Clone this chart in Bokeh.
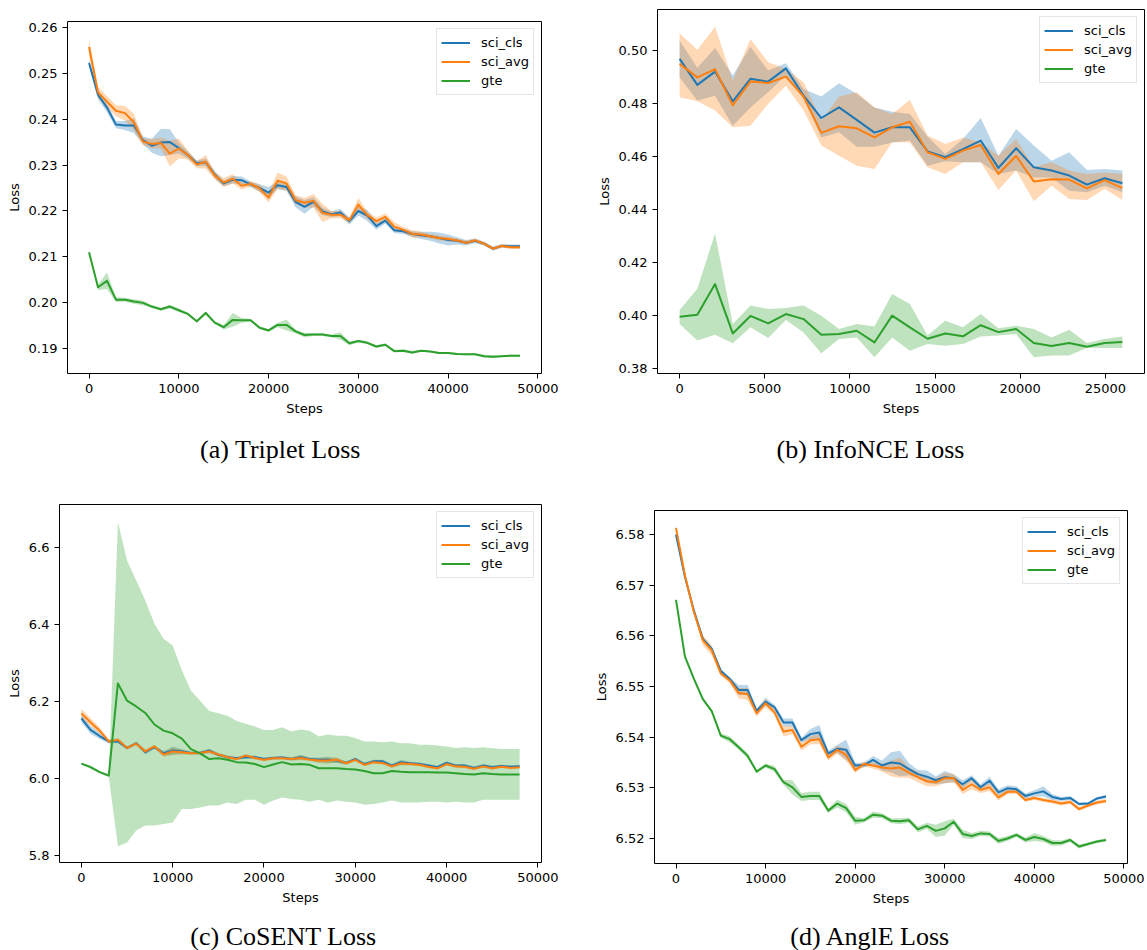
from bokeh.plotting import figure
from bokeh.models import Range1d, FixedTicker, PrintfTickFormatter, Label
from bokeh.layouts import row, column
from bokeh.embed import file_html
from bokeh.resources import INLINE

BLUE, ORANGE, GREEN = "#1f77b4", "#ff7f0e", "#2ca02c"
series_names = ["sci_cls", "sci_avg", "gte"]

# ---------------- (a) Triplet Loss ----------------
steps_a = list(range(0, 48001, 1000))
blue_a = [0.2522, 0.2453, 0.2425, 0.2388, 0.2386, 0.2386, 0.2354, 0.2342, 0.2349, 0.2350,
          0.2337, 0.2322, 0.2304, 0.2306, 0.2279, 0.2260, 0.2268, 0.2267, 0.2258, 0.2250,
          0.2240, 0.2256, 0.2252, 0.2220, 0.2209, 0.2220, 0.2199, 0.2193, 0.2197, 0.2178,
          0.2200, 0.2190, 0.2167, 0.2179, 0.2158, 0.2156, 0.2150, 0.2147, 0.2145, 0.2141,
          0.2137, 0.2135, 0.2131, 0.2135, 0.2129, 0.2118, 0.2124, 0.2123, 0.2123]
orange_a = [0.2557, 0.2458, 0.2438, 0.2418, 0.2413, 0.2393, 0.2351, 0.2346, 0.2348, 0.2325,
            0.2336, 0.2322, 0.2301, 0.2307, 0.2277, 0.2262, 0.2270, 0.2255, 0.2259, 0.2249,
            0.2229, 0.2266, 0.2260, 0.2224, 0.2218, 0.2222, 0.2196, 0.2192, 0.2192, 0.2180,
            0.2214, 0.2191, 0.2178, 0.2187, 0.2166, 0.2159, 0.2150, 0.2149, 0.2145, 0.2141,
            0.2139, 0.2136, 0.2131, 0.2136, 0.2129, 0.2118, 0.2124, 0.2121, 0.2121]
green_a = [0.2110, 0.2034, 0.2048, 0.2007, 0.2007, 0.2003, 0.2000, 0.1992, 0.1986, 0.1992,
           0.1984, 0.1976, 0.1960, 0.1978, 0.1957, 0.1947, 0.1963, 0.1962, 0.1962, 0.1946,
           0.1940, 0.1952, 0.1952, 0.1938, 0.1930, 0.1931, 0.1931, 0.1928, 0.1928, 0.1912,
           0.1917, 0.1913, 0.1905, 0.1909, 0.1895, 0.1896, 0.1892, 0.1896, 0.1894, 0.1891,
           0.1891, 0.1889, 0.1888, 0.1888, 0.1884, 0.1883, 0.1884, 0.1885, 0.1885]
blue_a_hw = [.0008, .0010, .0010, .0008, .0010, .0016, .0008, .0015, .0030, .0028,
             .0012, .0008, .0006, .0008, .0008, .0006, .0008, .0008, .0006, .0008,
             .0012, .0008, .0008, .0012, .0015, .0010, .0008, .0006, .0008, .0008,
             .0010, .0012, .0008, .0006, .0006, .0006, .0006, .0008, .0010, .0012,
             .0012, .0008, .0006, .0005, .0004, .0004, .0004, .0004, .0004]
orange_a_hw = [.0018, .0012, .0012, .0012, .0016, .0018, .0008, .0010, .0012, .0028,
               .0022, .0010, .0008, .0015, .0008, .0010, .0010, .0008, .0006, .0008,
               .0010, .0018, .0015, .0010, .0010, .0015, .0020, .0008, .0008, .0006,
               .0014, .0008, .0008, .0008, .0010, .0006, .0008, .0006, .0005, .0005,
               .0005, .0004, .0004, .0004, .0004, .0004, .0004, .0004, .0004]
green_a_hw = [.0001, .0006, .0018, .0005, .0004, .0005, .0005, .0003, .0003, .0004,
              .0004, .0003, .0003, .0004, .0003, .0005, .0015, .0005, .0003, .0003,
              .0003, .0005, .0012, .0004, .0005, .0003, .0003, .0003, .0008, .0004,
              .0003, .0003, .0003, .0003, .0003, .0003, .0003, .0002, .0002, .0002,
              .0002, .0002, .0002, .0002, .0003, .0003, .0002, .0002, .0002]

# ---------------- (b) InfoNCE Loss ----------------
steps_b = list(range(0, 26001, 1040))
blue_b = [.4969, .4871, .4921, .4809, .4894, .4883, .4933, .4830, .4746, .4786,
          .4739, .4691, .4711, .4711, .4620, .4598, .4629, .4661, .4558, .4632,
          .4560, .4548, .4529, .4495, .4519, .4500]
blue_b_lo = [.4899, .4812, .4830, .4717, .4786, .4843, .4906, .4818, .4673, .4692,
             .4638, .4638, .4654, .4661, .4566, .4583, .4579, .4579, .4535, .4548,
             .4522, .4522, .4472, .4466, .4491, .4466]
blue_b_hi = [.5038, .4935, .5010, .4906, .5015, .4925, .4952, .4855, .4827, .4877,
             .4837, .4786, .4770, .4761, .4676, .4610, .4667, .4746, .4604, .4705,
             .4642, .4585, .4617, .4550, .4554, .4548]
orange_b = [.4950, .4899, .4930, .4794, .4884, .4878, .4902, .4827, .4690, .4715,
            .4707, .4673, .4711, .4732, .4617, .4592, .4623, .4644, .4535, .4603,
            .4507, .4515, .4514, .4481, .4512, .4482]
orange_b_lo = [.4824, .4809, .4774, .4711, .4717, .4799, .4868, .4774, .4642, .4604,
               .4566, .4554, .4655, .4654, .4560, .4535, .4579, .4579, .4475, .4548,
               .4432, .4491, .4441, .4437, .4479, .4437]
orange_b_hi = [.5065, .5003, .5090, .4887, .5044, .4956, .4931, .4881, .4736, .4827,
               .4843, .4786, .4761, .4814, .4680, .4648, .4673, .4654, .4604, .4667,
               .4560, .4579, .4548, .4535, .4541, .4535]
green_b = [.3997, .4004, .4120, .3934, .4000, .3972, .4007, .3988, .3929, .3932,
           .3944, .3900, .4001, .3957, .3914, .3934, .3923, .3965, .3939, .3951,
           .3898, .3887, .3898, .3884, .3898, .3902]
green_b_lo = [.3970, .3907, .3929, .3897, .3957, .3917, .3985, .3938, .3859, .3913,
              .3919, .3844, .3919, .3869, .3894, .3888, .3894, .3922, .3926, .3932,
              .3844, .3851, .3851, .3880, .3879, .3879]
green_b_hi = [.4022, .4102, .4311, .3970, .4039, .4026, .4030, .4039, .4001, .3951,
              .3970, .3960, .4083, .4045, .3926, .3982, .3957, .4007, .3954, .3963,
              .3951, .3919, .3948, .3898, .3913, .3922]

# ---------------- (c) CoSENT Loss ----------------
steps_c = list(range(0, 48001, 1000))
blue_c = [6.156, 6.126, 6.110, 6.096, 6.096, 6.079, 6.091, 6.068, 6.081, 6.065,
          6.072, 6.070, 6.066, 6.066, 6.072, 6.061, 6.055, 6.052, 6.055, 6.055,
          6.050, 6.053, 6.054, 6.050, 6.055, 6.050, 6.048, 6.048, 6.046, 6.040,
          6.050, 6.037, 6.044, 6.044, 6.033, 6.042, 6.039, 6.037, 6.033, 6.029,
          6.040, 6.033, 6.033, 6.027, 6.033, 6.029, 6.032, 6.030, 6.031]
orange_c = [6.169, 6.146, 6.124, 6.096, 6.100, 6.079, 6.090, 6.070, 6.083, 6.062,
            6.070, 6.068, 6.065, 6.066, 6.070, 6.062, 6.055, 6.050, 6.059, 6.053,
            6.048, 6.052, 6.052, 6.050, 6.053, 6.049, 6.046, 6.046, 6.048, 6.039,
            6.048, 6.035, 6.042, 6.040, 6.031, 6.039, 6.037, 6.035, 6.030, 6.026,
            6.037, 6.031, 6.030, 6.025, 6.031, 6.026, 6.030, 6.027, 6.029]
green_c = [6.038, 6.029, 6.016, 6.007, 6.247, 6.202, 6.187, 6.170, 6.140, 6.124,
           6.117, 6.103, 6.076, 6.065, 6.050, 6.052, 6.048, 6.042, 6.041, 6.037,
           6.029, 6.036, 6.042, 6.036, 6.037, 6.035, 6.026, 6.026, 6.026, 6.024,
           6.023, 6.019, 6.013, 6.013, 6.019, 6.017, 6.016, 6.016, 6.016, 6.015,
           6.015, 6.013, 6.011, 6.010, 6.013, 6.011, 6.010, 6.010, 6.010]
blue_c_hw = [.010, .010, .008, .005, .005, .004, .004, .006, .004, .006,
             .010, .006, .004, .004, .005, .004, .004, .004, .004, .004,
             .004, .004, .004, .004, .006, .004, .006, .008, .006, .004,
             .004, .004, .004, .004, .004, .006, .004, .004, .004, .004,
             .004, .004, .004, .004, .004, .004, .003, .003, .003]
orange_c_hw = [.012, .010, .008, .005, .005, .004, .004, .004, .004, .006,
               .010, .006, .004, .004, .006, .004, .004, .004, .004, .004,
               .004, .004, .004, .004, .006, .004, .006, .008, .006, .004,
               .004, .004, .004, .004, .004, .006, .004, .004, .004, .004,
               .004, .004, .004, .004, .004, .004, .003, .003, .003]
green_c_lo = [6.035, 6.025, 6.013, 6.003, 5.823, 5.833, 5.864, 5.877, 5.877, 5.881,
              5.885, 5.920, 5.920, 5.924, 5.929, 5.929, 5.937, 5.933, 5.944, 5.944,
              5.931, 5.942, 5.950, 5.946, 5.944, 5.939, 5.944, 5.936, 5.942, 5.939,
              5.937, 5.931, 5.933, 5.937, 5.942, 5.937, 5.937, 5.937, 5.939, 5.939,
              5.937, 5.939, 5.937, 5.937, 5.944, 5.944, 5.944, 5.944, 5.944]
green_c_hi = [6.041, 6.033, 6.019, 6.011, 6.667, 6.567, 6.515, 6.463, 6.402, 6.363,
              6.346, 6.281, 6.228, 6.202, 6.175, 6.169, 6.163, 6.149, 6.142, 6.135,
              6.126, 6.126, 6.133, 6.122, 6.127, 6.124, 6.109, 6.114, 6.111, 6.111,
              6.105, 6.096, 6.096, 6.094, 6.096, 6.091, 6.091, 6.087, 6.087, 6.085,
              6.083, 6.079, 6.081, 6.079, 6.081, 6.078, 6.076, 6.076, 6.076]

# ---------------- (d) AnglE Loss ----------------
steps_d = list(range(0, 48001, 1000))
blue_d = [6.5800, 6.5716, 6.5650, 6.5594, 6.5574, 6.5531, 6.5515, 6.5493, 6.5493, 6.5452,
          6.5470, 6.5459, 6.5429, 6.5429, 6.5394, 6.5406, 6.5409, 6.5368, 6.5377, 6.5375,
          6.5344, 6.5345, 6.5355, 6.5344, 6.5350, 6.5348, 6.5337, 6.5327, 6.5322, 6.5315,
          6.5321, 6.5319, 6.5307, 6.5319, 6.5301, 6.5314, 6.5291, 6.5299, 6.5297, 6.5284,
          6.5289, 6.5293, 6.5282, 6.5278, 6.5280, 6.5268, 6.5269, 6.5279, 6.5283]
orange_d = [6.5813, 6.5719, 6.5647, 6.5591, 6.5571, 6.5526, 6.5512, 6.5487, 6.5485, 6.5447,
            6.5467, 6.5449, 6.5411, 6.5414, 6.5381, 6.5394, 6.5396, 6.5360, 6.5375, 6.5365,
            6.5335, 6.5347, 6.5344, 6.5340, 6.5338, 6.5340, 6.5330, 6.5321, 6.5313, 6.5311,
            6.5319, 6.5319, 6.5296, 6.5307, 6.5296, 6.5301, 6.5281, 6.5292, 6.5292, 6.5276,
            6.5280, 6.5276, 6.5273, 6.5269, 6.5272, 6.5258, 6.5265, 6.5271, 6.5274]
green_d = [6.5671, 6.5559, 6.5515, 6.5475, 6.5451, 6.5403, 6.5396, 6.5380, 6.5363, 6.5332,
           6.5344, 6.5337, 6.5311, 6.5301, 6.5282, 6.5284, 6.5284, 6.5255, 6.5269, 6.5260,
           6.5235, 6.5236, 6.5247, 6.5245, 6.5235, 6.5234, 6.5236, 6.5218, 6.5225, 6.5215,
           6.5220, 6.5233, 6.5209, 6.5205, 6.5210, 6.5209, 6.5195, 6.5200, 6.5207, 6.5197,
           6.5203, 6.5199, 6.5191, 6.5191, 6.5197, 6.5184, 6.5189, 6.5194, 6.5197]
blue_d_hw = [.0003, .0003, .0003, .0003, .0003, .0003, .0003, .0010, .0010, .0004,
             .0008, .0005, .0008, .0008, .0005, .0010, .0015, .0005, .0008, .0020,
             .0005, .0005, .0008, .0010, .0020, .0025, .0012, .0008, .0012, .0008,
             .0012, .0008, .0008, .0006, .0006, .0008, .0006, .0006, .0006, .0005,
             .0006, .0010, .0006, .0004, .0004, .0003, .0003, .0003, .0003]
orange_d_hw = [.0003, .0003, .0003, .0010, .0010, .0006, .0005, .0010, .0012, .0006,
               .0008, .0006, .0010, .0008, .0008, .0008, .0010, .0006, .0008, .0012,
               .0006, .0005, .0006, .0008, .0015, .0020, .0010, .0010, .0010, .0008,
               .0010, .0008, .0008, .0010, .0006, .0008, .0006, .0005, .0004, .0004,
               .0004, .0004, .0004, .0004, .0004, .0004, .0004, .0004, .0004]
green_d_hw = [.0003, .0003, .0003, .0003, .0003, .0004, .0006, .0005, .0005, .0003,
              .0004, .0006, .0005, .0014, .0008, .0008, .0008, .0004, .0008, .0008,
              .0008, .0004, .0006, .0005, .0005, .0006, .0005, .0006, .0006, .0012,
              .0014, .0006, .0008, .0006, .0005, .0005, .0006, .0005, .0004, .0005,
              .0008, .0006, .0006, .0005, .0004, .0004, .0003, .0003, .0003]

ticks_48k = [0, 10000, 20000, 30000, 40000, 50000]
ticks_26k = [0, 5000, 10000, 15000, 20000, 25000]
captions = ["(a) Triplet Loss", "(b) InfoNCE Loss", "(c) CoSENT Loss", "(d) AnglE Loss"]


def sym(mean, hw):
    return [m - h for m, h in zip(mean, hw)], [m + h for m, h in zip(mean, hw)]


def panel(width, height, xr, yr, borders, yticks, yfmt, xticks, steps, series):
    l, r, t, b = borders
    p = figure(width=width, height=height, x_range=Range1d(*xr), y_range=Range1d(*yr),
               output_backend="svg", toolbar_location=None,
               min_border_left=l, min_border_right=r, min_border_top=t, min_border_bottom=b)
    p.grid.visible = False
    p.outline_line_color = "black"
    p.outline_line_width = 1
    p.outline_line_alpha = 1.0
    p.background_fill_color = "white"
    p.border_fill_color = "white"
    for ax in (p.xaxis[0], p.yaxis[0]):
        ax.axis_line_color = None
        ax.major_tick_out = 5
        ax.major_tick_in = 0
        ax.minor_tick_line_color = None
        ax.major_tick_line_color = "black"
        ax.major_label_text_font = "DejaVu Sans"
        ax.major_label_text_font_size = "13px"
        ax.major_label_text_color = "black"
        ax.axis_label_text_font = "DejaVu Sans"
        ax.axis_label_text_font_size = "13px"
        ax.axis_label_text_font_style = "normal"
        ax.axis_label_text_color = "black"
    p.xaxis.ticker = FixedTicker(ticks=xticks)
    p.yaxis.ticker = FixedTicker(ticks=yticks)
    p.xaxis.formatter = PrintfTickFormatter(format="%d")
    p.yaxis.formatter = PrintfTickFormatter(format=yfmt)
    p.xaxis.axis_label = "Steps"
    p.yaxis.axis_label = "Loss"
    p.xaxis.axis_label_standoff = 5
    p.yaxis.axis_label_standoff = 4

    for name, color, mean, lo, hi in series:
        p.varea(x=steps, y1=lo, y2=hi, fill_color=color, fill_alpha=0.3)
    for name, color, mean, lo, hi in series:
        p.line(x=steps, y=mean, line_color=color, line_width=2, line_join="round",
               legend_label=name)

    lg = p.legend[0]
    lg.location = "top_right"
    lg.margin = 7
    lg.padding = 4
    lg.spacing = 0
    lg.glyph_width = 29
    lg.glyph_height = 19
    lg.label_height = 19
    lg.label_standoff = 11
    lg.label_text_font = "DejaVu Sans"
    lg.label_text_font_size = "13px"
    lg.label_text_color = "black"
    lg.border_line_color = "#cccccc"
    lg.border_line_width = 1
    lg.background_fill_alpha = 0.8
    return p


def caption_fig(width, height, text, cx, cy_from_top):
    c = figure(width=width, height=height, output_backend="svg", toolbar_location=None,
               x_axis_location=None, y_axis_location=None,
               min_border_left=0, min_border_right=0, min_border_top=0, min_border_bottom=0)
    c.grid.visible = False
    c.outline_line_color = None
    c.background_fill_color = "white"
    c.border_fill_color = "white"
    c.add_layout(Label(x=cx, y=height - cy_from_top, x_units="screen", y_units="screen",
                       text=text, text_align="center", text_baseline="middle",
                       text_font="Liberation Serif", text_font_size="26px",
                       text_font_style="normal", text_color="black"))
    return c


a_b_lo, a_b_hi = sym(blue_a, blue_a_hw)
a_o_lo, a_o_hi = sym(orange_a, orange_a_hw)
a_g_lo, a_g_hi = sym(green_a, green_a_hw)
pa = panel(590, 420, (-2400, 50400), (0.18463, 0.26124), (67, 49, 21, 47),
           [0.19, 0.20, 0.21, 0.22, 0.23, 0.24, 0.25, 0.26], "%.2f", ticks_48k, steps_a,
           [(series_names[0], BLUE, blue_a, a_b_lo, a_b_hi),
            (series_names[1], ORANGE, orange_a, a_o_lo, a_o_hi),
            (series_names[2], GREEN, green_a, a_g_lo, a_g_hi)])

pb = panel(556, 420, (-1300, 27300), (0.3783, 0.5155), (67, 2, 9, 47),
           [0.38, 0.40, 0.42, 0.44, 0.46, 0.48, 0.50], "%.2f", ticks_26k, steps_b,
           [(series_names[0], BLUE, blue_b, blue_b_lo, blue_b_hi),
            (series_names[1], ORANGE, orange_b, orange_b_lo, orange_b_hi),
            (series_names[2], GREEN, green_b, green_b_lo, green_b_hi)])

c_b_lo, c_b_hi = sym(blue_c, blue_c_hw)
c_o_lo, c_o_hi = sym(orange_c, orange_c_hw)
pc = panel(590, 425, (-2400, 50400), (5.7807, 6.7128), (59, 49, 20, 47),
           [5.8, 6.0, 6.2, 6.4, 6.6], "%.1f", ticks_48k, steps_c,
           [(series_names[0], BLUE, blue_c, c_b_lo, c_b_hi),
            (series_names[1], ORANGE, orange_c, c_o_lo, c_o_hi),
            (series_names[2], GREEN, green_c, green_c_lo, green_c_hi)])

d_b_lo, d_b_hi = sym(blue_d, blue_d_hw)
d_o_lo, d_o_hi = sym(orange_d, orange_d_hw)
d_g_lo, d_g_hi = sym(green_d, green_d_hw)
pd_ = panel(556, 425, (-2400, 50400), (6.51506, 6.58474), (64, 19, 26, 46),
            [6.52, 6.53, 6.54, 6.55, 6.56, 6.57, 6.58], "%.2f", ticks_48k, steps_d,
            [(series_names[0], BLUE, blue_d, d_b_lo, d_b_hi),
             (series_names[1], ORANGE, orange_d, d_o_lo, d_o_hi),
             (series_names[2], GREEN, green_d, d_g_lo, d_g_hi)])

cap_a = caption_fig(590, 64, captions[0], 280, 29)
cap_b = caption_fig(556, 64, captions[1], 280, 29)
cap_c = caption_fig(590, 41, captions[2], 283, 27)
cap_d = caption_fig(556, 41, captions[3], 280, 27)

# each piece wrapped on its own so that Bokeh does not line up the plot frames
left = column(row(pa), row(cap_a), row(pc), row(cap_c))
right = column(row(pb), row(cap_b), row(pd_), row(cap_d))
layout = row(left, right)
open("out.html", "w").write(file_html(layout, INLINE))
